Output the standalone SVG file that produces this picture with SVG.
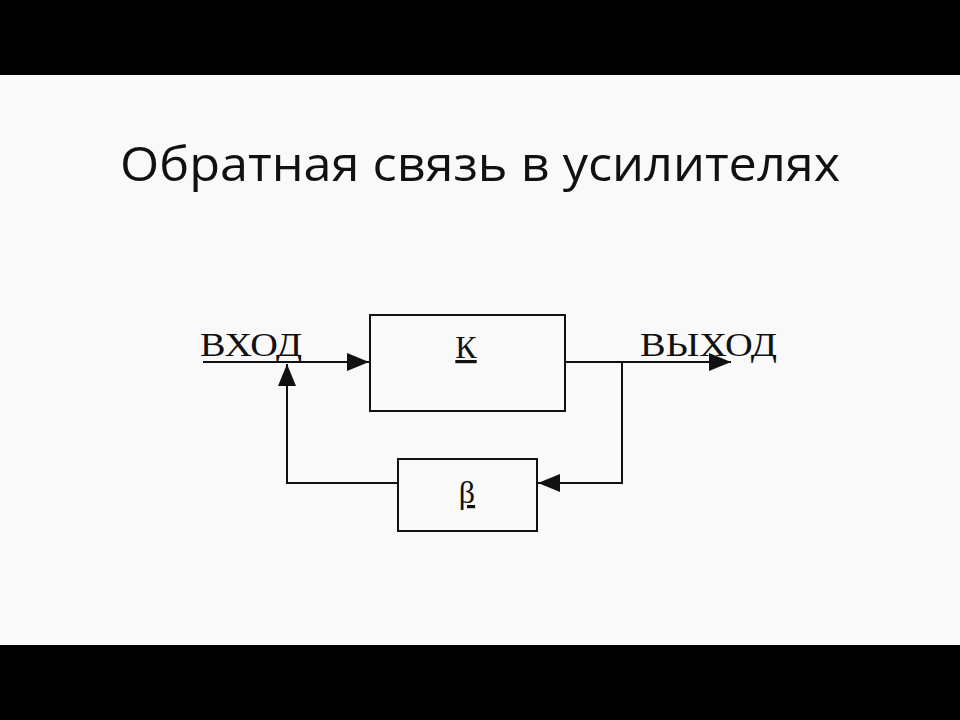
<svg xmlns="http://www.w3.org/2000/svg" width="960" height="720" viewBox="0 0 960 720">
<style>
.box{fill:none;stroke:#111;stroke-width:2}
.ln{fill:none;stroke:#111;stroke-width:2}
.lbl{font-family:"Liberation Serif",serif;font-size:33px;fill:#111}
.in{font-family:"Liberation Serif",serif;font-size:32px;fill:#111;text-decoration:underline}
</style>
<defs><marker id="b" markerWidth="22" markerHeight="18" refX="22" refY="9" orient="auto" markerUnits="userSpaceOnUse" viewBox="0 0 22 18"><path d="M0,0L22,9L0,18z" fill="#111"/></marker></defs>
<rect width="960" height="720" fill="#f9f9f9"/>
<rect width="960" height="75" fill="#000"/>
<rect y="645" width="960" height="75" fill="#000"/>
<text x="480" y="181" text-anchor="middle" font-family="Open Sans,Liberation Sans,sans-serif" font-size="48" textLength="720" lengthAdjust="spacingAndGlyphs" fill="#111">Обратная связь в усилителях</text>
<g id="connectors">
<path class="ln" d="M203,362H369" marker-end="url(#b)"/>
<path class="ln" d="M565,362H731" marker-end="url(#b)"/>
<path class="ln" d="M622,362V483H538" marker-end="url(#b)"/>
<path class="ln" d="M398,483H287V364" marker-end="url(#b)"/>
</g>
<g id="in"><text class="lbl" x="200" y="356" textLength="102" lengthAdjust="spacingAndGlyphs">ВХОД</text></g>
<g id="out"><text class="lbl" x="640" y="356" textLength="137" lengthAdjust="spacingAndGlyphs">ВЫХОД</text></g>
<g id="K"><rect class="box" x="370" y="315" width="195" height="96"/><text class="in" x="466" y="358" text-anchor="middle">К</text></g>
<g id="beta"><rect class="box" x="398" y="459" width="139" height="72"/><text class="in" x="467" y="503" text-anchor="middle">β</text></g>
</svg>
